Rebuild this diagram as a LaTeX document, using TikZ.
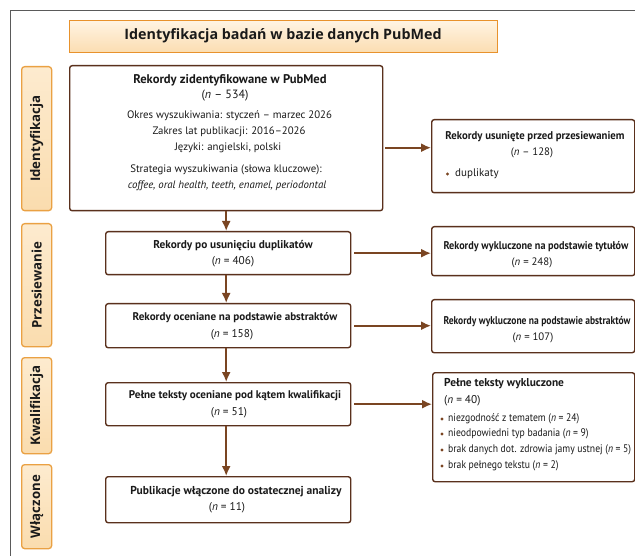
\documentclass[tikz,border=0pt]{standalone}
\usepackage{fontspec}
\setmainfont{PT Sans}
\newfontfamily\headfont{Open Sans}
\usepackage{graphicx}
\usetikzlibrary{arrows.meta}
\definecolor{boxbrown}{HTML}{5A301C}
\definecolor{arrbrown}{HTML}{7A4522}
\definecolor{phaseor}{HTML}{EAA143}
\definecolor{titleor}{HTML}{E8922C}
\definecolor{phasetop}{HTML}{FDEBCF}
\definecolor{phasebot}{HTML}{FADCAE}
\definecolor{titletop}{HTML}{FFF4E3}
\definecolor{titlebot}{HTML}{FBDDB1}
\definecolor{framegray}{HTML}{5A5A5A}
\definecolor{txt}{HTML}{1A1A1A}
\newcommand{\cond}[1]{\scalebox{0.88}[1]{#1}}
\begin{document}
\begin{tikzpicture}[x=1pt,y=-1pt,
  box/.style={draw=boxbrown, line width=1.4pt, rounded corners=2.5pt, fill=white, inner sep=0pt, anchor=north west},
  phasebox/.style={draw=phaseor, line width=1.3pt, rounded corners=3pt, top color=phasetop, bottom color=phasebot, inner sep=0pt, anchor=north west, minimum width=30pt},
  phaselabel/.style={rotate=90, inner sep=0pt, text=txt, font=\headfont\bfseries\fontsize{13.2}{15}\selectfont},
  tx/.style={inner sep=0pt, text=txt},
  bn/.style={tx, font=\fontsize{11.3}{13}\selectfont},
  small/.style={tx, font=\fontsize{10.8}{13}\selectfont},
  rn/.style={tx, font=\fontsize{10.8}{12}\selectfont},
  rhead/.style={tx, font=\bfseries\fontsize{11.2}{13}\selectfont},
  li/.style={tx, anchor=west, font=\fontsize{11}{12}\selectfont},
  dot/.style={circle, fill=arrbrown, inner sep=0pt, minimum size=3.4pt},
  arr/.style={draw=arrbrown, line width=1.7pt, -{Latex[length=10pt,width=9pt]}}
]
\useasboundingbox (0,0) rectangle (635,556);
\fill[white] (0,0) rectangle (635,556);
\draw[framegray, line width=1pt] (10,556) -- (10,11) -- (636,11);

% title
\node[draw=titleor, line width=1.2pt, top color=titletop, bottom color=titlebot, inner sep=0pt, anchor=north west, minimum width=428pt, minimum height=32pt] (title) at (69,20) {};
\node[tx, font=\headfont\bfseries\fontsize{14.3}{16}\selectfont] (titletext) at (283,36) {Identyfikacja badań w bazie danych PubMed};

% phase boxes
\node[phasebox, minimum height=144pt] (p1) at (21,66) {};
\node[phasebox, minimum height=123pt] (p2) at (21,223) {};
\node[phasebox, minimum height=96pt] (p3) at (21,357) {};
\node[phasebox, minimum height=84pt] (p4) at (21,464) {};
\node[phaselabel] (p1t) at (p1.center) {Identyfikacja};
\node[phaselabel] (p2t) at (p2.center) {Przesiewanie};
\node[phaselabel] (p3t) at (p3.center) {Kwalifikacja};
\node[phaselabel] (p4t) at (p4.center) {Włączone};

% main boxes
\node[box, minimum width=313pt, minimum height=145pt] (b1) at (69,65) {};
\node[box, minimum width=245pt, minimum height=43pt] (b2) at (105,231) {};
\node[box, minimum width=245pt, minimum height=44pt] (b3) at (105,303) {};
\node[box, minimum width=245pt, minimum height=43pt] (b4) at (105,382) {};
\node[box, minimum width=245pt, minimum height=46pt] (b5) at (105,476) {};

% right boxes
\node[box, minimum width=203pt, minimum height=73pt] (r1) at (431,119) {};
\node[box, minimum width=203pt, minimum height=49pt] (r2) at (431,226) {};
\node[box, minimum width=203pt, minimum height=53pt] (r3) at (431,299) {};
\node[box, minimum width=202pt, minimum height=109pt] (r4) at (432,372) {};

% box 1 text
\node[tx, font=\bfseries\fontsize{12.6}{14}\selectfont] (b1a) at (230,80) {Rekordy zidentyfikowane w PubMed};
\node[tx, font=\fontsize{12}{14}\selectfont] (b1b) at (225,96) {(\textit{n} – 534)};
\node[small] (b1c) at (229.5,116) {Okres wyszukiwania: styczeń – marzec 2026};
\node[small] (b1d) at (229,132) {Zakres lat publikacji: 2016–2026};
\node[small] (b1e) at (228,147.5) {Języki: angielski, polski};
\node[small] (b1f) at (226,169.5) {Strategia wyszukiwania (słowa kluczowe):};
\node[small] (b1g) at (227,185.5) {\textit{coffee, oral health, teeth, enamel, periodontal}};

% box 2-5 text
\node[tx, font=\bfseries\fontsize{11.3}{13}\selectfont] (b2a) at (233,246) {Rekordy po usunięciu duplikatów};
\node[bn] (b2b) at (233,262) {(\textit{n} = 406)};
\node[tx, font=\bfseries\fontsize{11.1}{13}\selectfont] (b3a) at (235,318) {Rekordy oceniane na podstawie abstraktów};
\node[bn] (b3b) at (232,335) {(\textit{n} = 158)};
\node[tx, font=\bfseries\fontsize{11.1}{13}\selectfont] (b4a) at (235,396) {Pełne teksty oceniane pod kątem kwalifikacji};
\node[bn] (b4b) at (229,413) {(\textit{n} = 51)};
\node[tx, font=\bfseries\fontsize{11.5}{13}\selectfont] (b5a) at (236,492) {Publikacje włączone do ostatecznej analizy};
\node[bn] (b5b) at (227,508) {(\textit{n} = 11)};

% right text
\node[rhead] (r1a) at (535,137) {\scalebox{0.96}[1]{Rekordy usunięte przed przesiewaniem}};
\node[rn] (r1b) at (532,153) {(\textit{n} – 128)};
\node[dot] (r1d) at (447.5,174) {};
\node[li] (r1c) at (455,174) {duplikaty};
\node[rhead] (r2a) at (536,247) {\scalebox{0.91}[1]{Rekordy wykluczone na podstawie tytułów}};
\node[rn] (r2b) at (532,263) {(\textit{n} = 248)};
\node[rhead] (r3a) at (537,322) {\scalebox{0.85}[1]{Rekordy wykluczone na podstawie abstraktów}};
\node[rn] (r3b) at (533,338) {(\textit{n} = 107)};
\node[tx, anchor=west, font=\bfseries\fontsize{11.4}{13}\selectfont] (r4a) at (444,384) {Pełne teksty wykluczone};
\node[tx, anchor=west, font=\fontsize{11.3}{13}\selectfont] (r4b) at (444,401) {(\textit{n} = 40)};
\node[dot] (r4c1) at (442,419) {};
\node[dot] (r4d1) at (442,434) {};
\node[dot] (r4e1) at (442,450) {};
\node[dot] (r4f1) at (442,466) {};
\node[li] (r4c) at (448,419) {\cond{niezgodność z tematem (\textit{n} = 24)}};
\node[li] (r4d) at (448,434) {\cond{nieodpowiedni typ badania (\textit{n} = 9)}};
\node[li] (r4e) at (448,450) {\cond{brak danych dot. zdrowia jamy ustnej (\textit{n} = 5)}};
\node[li] (r4f) at (448,466) {\cond{brak pełnego tekstu (\textit{n} = 2)}};

% arrows
\draw[arr] (b1.south) -- (b2.north -| b1.south);
\draw[arr] (b2.south -| b1.south) -- (b3.north -| b1.south);
\draw[arr] (b3.south -| b1.south) -- (b4.north -| b1.south);
\draw[arr] (b4.south -| b1.south) -- (b5.north -| b1.south);
\coordinate (a1) at ([yshift=8.5pt]r1.west);
\draw[arr] ([xshift=2pt]a1 -| b1.east) -- (a1);
\draw[arr] ([xshift=3pt]b2.east) -- (b2.east -| r2.west);
\draw[arr] ([xshift=3pt]b3.east) -- (b3.east -| r3.west);
\draw[arr] ([xshift=3pt]b4.east) -- (b4.east -| r4.west);
\end{tikzpicture}
\end{document}
